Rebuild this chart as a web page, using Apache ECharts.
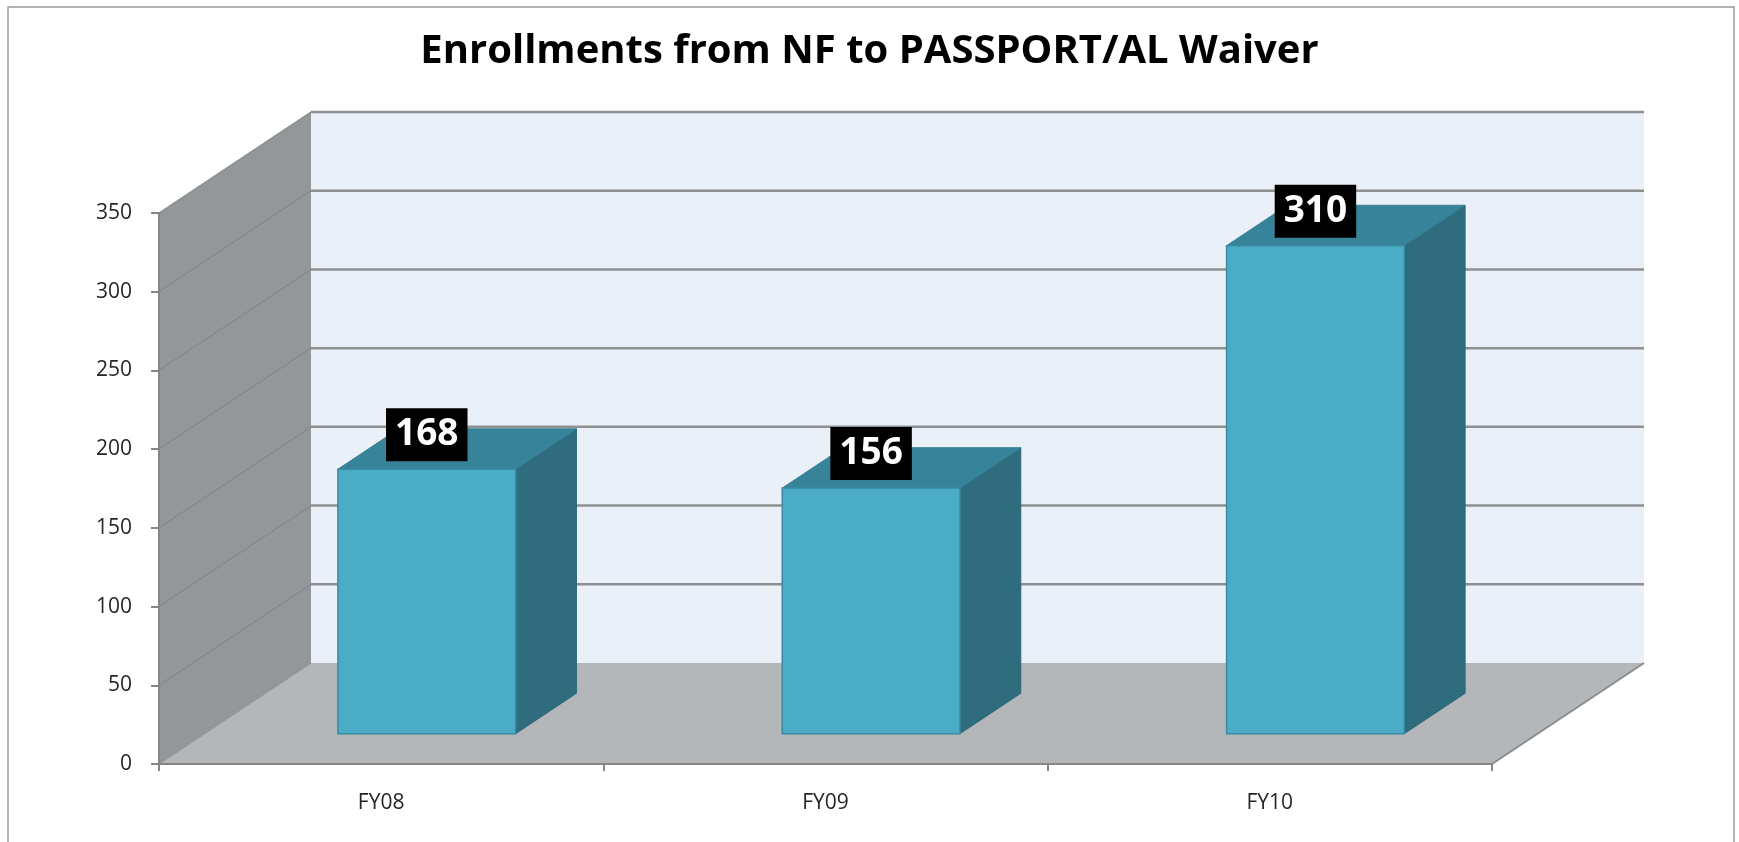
<!DOCTYPE html>
<html>
<head>
<meta charset="utf-8">
<script src="https://cdn.jsdelivr.net/npm/echarts@6/dist/echarts.min.js"></script>
<style>
  html, body { margin: 0; padding: 0; background: #fff; }
  #chart { width: 1739px; height: 842px; }
</style>
</head>
<body>
<div id="chart"></div>
<script>
// ---- data ----
const titleText = 'Enrollments from NF to PASSPORT/AL Waiver';
const categories = ['FY08', 'FY09', 'FY10'];
const values = [168, 156, 310];
const yTicks = [0, 50, 100, 150, 200, 250, 300, 350];

// ---- 3D look (pixel depth offset of the box) ----
const DX = 152, DY = -101;
const BAR_W = 0.40;      // fraction of category band
const D0 = 0.30, D1 = 0.70; // bar depth range (fraction of total depth)

const yMin = yTicks[0], yMax = yTicks[yTicks.length - 1], yStep = yTicks[1] - yTicks[0];

const chart = echarts.init(document.getElementById('chart'));

function poly(points, fill, stroke, lw) {
  return { type: 'polygon', shape: { points: points },
    style: { fill: fill, stroke: stroke || null, lineWidth: lw || 0 } };
}
function line(x1, y1, x2, y2, stroke, lw) {
  return { type: 'line', shape: { x1, y1, x2, y2 }, style: { stroke, lineWidth: lw } };
}

function renderWalls(params, api) {
  const band = api.size([1, 0])[0];
  const left = api.coord([0, yMin])[0] - band / 2;
  const right = left + band * categories.length;
  const y0 = api.coord([0, yMin])[1];
  const yT = api.coord([0, yMax])[1];
  const ch = [];
  ch.push(poly([[left + DX, yT + DY], [right + DX, yT + DY], [right + DX, y0 + DY], [left + DX, y0 + DY]], '#E9F0F7'));
  ch.push(poly([[left, y0], [left, yT], [left + DX, yT + DY], [left + DX, y0 + DY]], '#939799'));
  ch.push(poly([[left, y0], [right, y0], [right + DX, y0 + DY], [left + DX, y0 + DY]], '#B3B7BA'));
  yTicks.forEach(function (v) {
    if (v === yMin) return;
    const y = api.coord([0, v])[1];
    ch.push(line(left + DX, y + DY, right + DX, y + DY, '#8E9092', 2.5));
    ch.push(line(left, y, left + DX, y + DY, v === yMax ? '#8A8D8F' : '#7E8284', v === yMax ? 1.5 : 1));
  });
  ch.push(line(left, y0, left + DX, y0 + DY, '#8A8D8F', 1));
  ch.push(line(right, y0, right + DX, y0 + DY, '#8A8D8F', 2));
  return { type: 'group', children: ch };
}

function renderBar(params, api) {
  const i = api.value(0), v = api.value(1);
  const band = api.size([1, 0])[0];
  const c = api.coord([i, yMin]);
  const top = api.coord([i, v])[1];
  const w = band * BAR_W;
  const x0 = c[0] - w / 2 + D0 * DX, x1 = x0 + w;
  const yb = c[1] + D0 * DY, yt = top + D0 * DY;
  const ddx = (D1 - D0) * DX, ddy = (D1 - D0) * DY;
  return {
    type: 'group',
    children: [
      poly([[x1, yt], [x1 + ddx, yt + ddy], [x1 + ddx, yb + ddy], [x1, yb]], '#2F6C7E', '#2C6677', 1),
      poly([[x0, yt], [x1, yt], [x1 + ddx, yt + ddy], [x0 + ddx, yt + ddy]], '#37849A', '#357F94', 1),
      poly([[x0, yt], [x1, yt], [x1, yb], [x0, yb]], '#4BACC7', '#3A8BA2', 1.5),
      {
        type: 'text', z2: 10,
        style: {
          text: String(v), x: (x0 + x1) / 2, y: yt - 8,
          align: 'center', verticalAlign: 'bottom',
          fill: '#ffffff', font: 'bold 37px "Open Sans"',
          lineHeight: 41, backgroundColor: '#000000', padding: [6, 9]
        }
      }
    ]
  };
}

const option = {
  backgroundColor: '#ffffff',
  animation: false,
  title: {
    text: titleText, left: 'center', top: 27,
    textStyle: { fontFamily: 'Open Sans', fontWeight: 'bold', fontSize: 40, color: '#000000' }
  },
  graphic: [{
    type: 'rect', shape: { x: 8, y: 7, width: 1726, height: 850 },
    style: { fill: null, stroke: '#9A9A9A', lineWidth: 1.5 }, silent: true
  }],
  grid: { left: 159, right: 247, top: 213, bottom: 78, containLabel: false },
  xAxis: {
    type: 'category', data: categories, z: 5,
    axisLine: { lineStyle: { color: '#868686', width: 2 } },
    axisTick: { show: true, length: 7, lineStyle: { color: '#868686', width: 2 } },
    axisLabel: { margin: 29, fontFamily: 'Open Sans', fontSize: 21, color: '#262626' },
    splitLine: { show: false }
  },
  yAxis: {
    type: 'value', min: yMin, max: yMax, interval: yStep, z: 5,
    axisLine: { show: true, lineStyle: { color: '#868686', width: 2 } },
    axisTick: { show: true, length: 8, lineStyle: { color: '#868686', width: 2 } },
    axisLabel: { margin: 27, fontFamily: 'Open Sans', fontSize: 21, color: '#262626' },
    splitLine: { show: false }
  },
  series: [
    { type: 'custom', name: 'walls', z: 1, silent: true, renderItem: renderWalls,
      data: [[0, yMin]], encode: { x: 0, y: 1 } },
    { type: 'custom', name: 'Enrollments', z: 3, renderItem: renderBar,
      data: categories.map(function (c, i) { return [i, values[i]]; }), encode: { x: 0, y: 1 } }
  ]
};
chart.setOption(option);
</script>
</body>
</html>
